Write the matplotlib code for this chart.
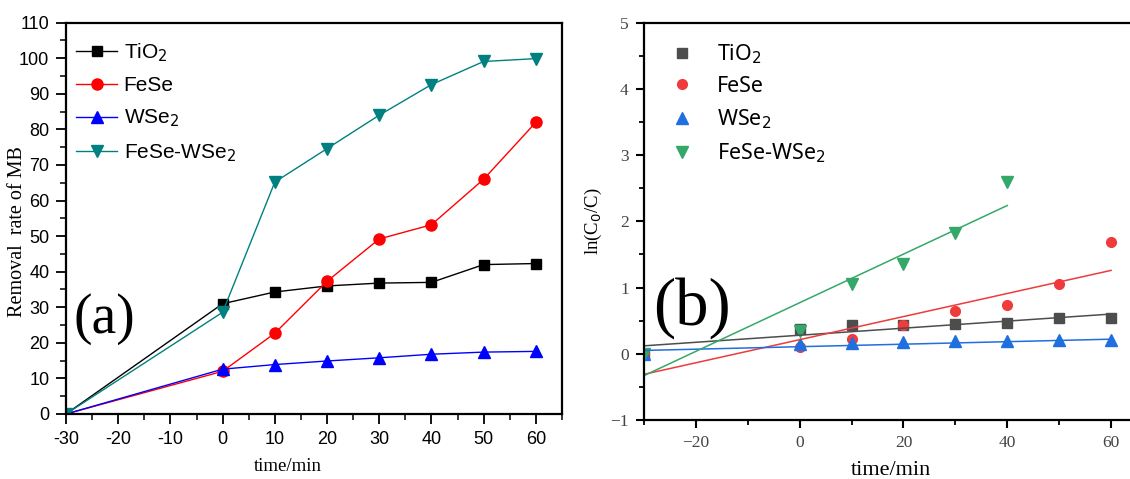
import matplotlib
matplotlib.use("Agg")
import matplotlib.pyplot as plt
from matplotlib.ticker import MultipleLocator
import numpy as np

# data
time = [-30, 0, 10, 20, 30, 40, 50, 60]
removal_tio2 = [0, 31.0, 34.3, 36.0, 36.8, 37.0, 42.0, 42.3]
removal_fese = [0, 12.0, 22.7, 37.3, 49.2, 53.2, 66.0, 82.0]
removal_wse2 = [0, 12.6, 13.9, 14.9, 15.8, 16.8, 17.4, 17.6]
removal_fesewse2 = [0, 28.6, 65.2, 74.6, 84.0, 92.6, 99.1, 99.9]

time_b = [-30, 0, 10, 20, 30, 40, 50, 60]
ln_tio2 = [0, 0.38, 0.43, 0.44, 0.455, 0.465, 0.545, 0.545]
ln_fese = [0, 0.10, 0.23, 0.44, 0.65, 0.73, 1.05, 1.69]
ln_wse2 = [0, 0.15, 0.16, 0.175, 0.19, 0.20, 0.21, 0.21]
time_b_fw = [-30, 0, 10, 20, 30, 40]
ln_fesewse2 = [0, 0.34, 1.05, 1.36, 1.83, 2.59]

# linear fits as drawn (slope, intercept, x range)
fit_slope = [0.00533, 0.01744, 0.00189, 0.03671]
fit_icpt = [0.28, 0.213, 0.107, 0.771]
fit_end = [60, 60, 60, 40]

labels = ['TiO$_2$', 'FeSe', 'WSe$_2$', 'FeSe-WSe$_2$']

fig = plt.figure(figsize=(11.3, 4.79), dpi=100)

# ---------- (a) ----------
ax1 = fig.add_axes([0.0584, 0.1357, 0.4389, 0.8169])
cols_a = ['black', '#ff0000', '#0000ff', '#008080']
marks_a = ['s', 'o', '^', 'v']
sizes_a = [7, 8, 8, 8]
for ys, c, m, ms, lab in zip([removal_tio2, removal_fese, removal_wse2, removal_fesewse2],
                             cols_a, marks_a, sizes_a, labels):
    ax1.plot(time, ys, color=c, marker=m, markersize=ms, lw=1, label=lab)

ax1.set_xlim(-30, 65)
ax1.set_ylim(0, 110)
ax1.set_xticks([-30, -20, -10, 0, 10, 20, 30, 40, 50, 60])
ax1.set_xticklabels(['-30', '-20', '-10', '0', '10', '20', '30', '40', '50', '60'])
ax1.xaxis.set_minor_locator(MultipleLocator(5))
ax1.yaxis.set_major_locator(MultipleLocator(10))
ax1.yaxis.set_minor_locator(MultipleLocator(5))
ax1.tick_params(which='major', direction='out', length=7, width=1.3, labelsize=13, pad=5)
ax1.tick_params(which='minor', direction='out', length=4, width=1.1)
for lab in ax1.get_xticklabels() + ax1.get_yticklabels():
    lab.set_family('Liberation Sans')
for s in ax1.spines.values():
    s.set_linewidth(1.6)
ax1.set_xlabel('time/min', family='Liberation Serif', fontsize=13.5)
ax1.xaxis.set_label_coords(0.448, -0.112)
ax1.set_ylabel('Removal  rate of MB', family='Liberation Serif', fontsize=14.5)
ax1.yaxis.set_label_coords(-0.079, 0.465)
ax1.legend(loc='upper left', bbox_to_anchor=(0.003, 0.974), frameon=False,
           prop={'family': 'Liberation Sans', 'size': 15},
           handlelength=2.0, labelspacing=0.6, borderaxespad=0, handletextpad=0.3)
ax1.text(-22.6, 26.8, '(a)', family='Liberation Serif', fontsize=40, ha='center', va='center')

# ---------- (b) ----------
ax2 = fig.add_axes([0.5699, 0.1232, 0.4478, 0.8294])
cols_b = ['#4d4d4d', '#ef3b3b', '#1f6fde', '#34a868']
marks_b = ['s', 'o', '^', 'v']
sizes_b = [6.5, 7, 8, 8]
xs_b = [time_b, time_b, time_b, time_b_fw]
ys_b = [ln_tio2, ln_fese, ln_wse2, ln_fesewse2]
for xs, ys, c, m, ms, lab in zip(xs_b, ys_b, cols_b, marks_b, sizes_b, labels):
    ax2.plot(xs, ys, ls='none', marker=m, markersize=ms, color=c, label=lab)
for k, c, icpt, end in zip(fit_slope, cols_b, fit_icpt, fit_end):
    xx = np.array([-30, end])
    ax2.plot(xx, k * xx + icpt, color=c, lw=1.1)

ax2.set_xlim(-30, 67.5)
ax2.set_ylim(-1, 5)
ax2.set_xticks([-20, 0, 20, 40, 60])
ax2.xaxis.set_minor_locator(MultipleLocator(10))
ax2.yaxis.set_major_locator(MultipleLocator(1))
ax2.yaxis.set_minor_locator(MultipleLocator(0.5))
ax2.tick_params(which='major', direction='out', length=6, width=1.5, labelsize=12.5,
                labelcolor='#444444', pad=5)
ax2.tick_params(which='minor', direction='out', length=3.5, width=1.3)
for lab in ax2.get_xticklabels() + ax2.get_yticklabels():
    lab.set_family('Liberation Serif')
for s in ax2.spines.values():
    s.set_linewidth(1.6)
ax2.set_xlabel('time/min', family='Liberation Serif', fontsize=16)
ax2.xaxis.set_label_coords(0.488, -0.104)
ax2.set_ylabel('ln(C$_0$/C)', family='Liberation Serif', fontsize=13.5)
ax2.yaxis.set_label_coords(-0.079, 0.5)
ax2.legend(loc='upper left', bbox_to_anchor=(0.0324, 0.973), frameon=False,
           prop={'family': 'Noto Sans', 'size': 15.5},
           handlelength=1.2, labelspacing=0.48, borderaxespad=0, handletextpad=1.03)
ax2.text(-20.7, 0.69, '(b)', family='Liberation Serif', fontsize=48, ha='center', va='center')

fig.savefig('out.png', dpi=100)
